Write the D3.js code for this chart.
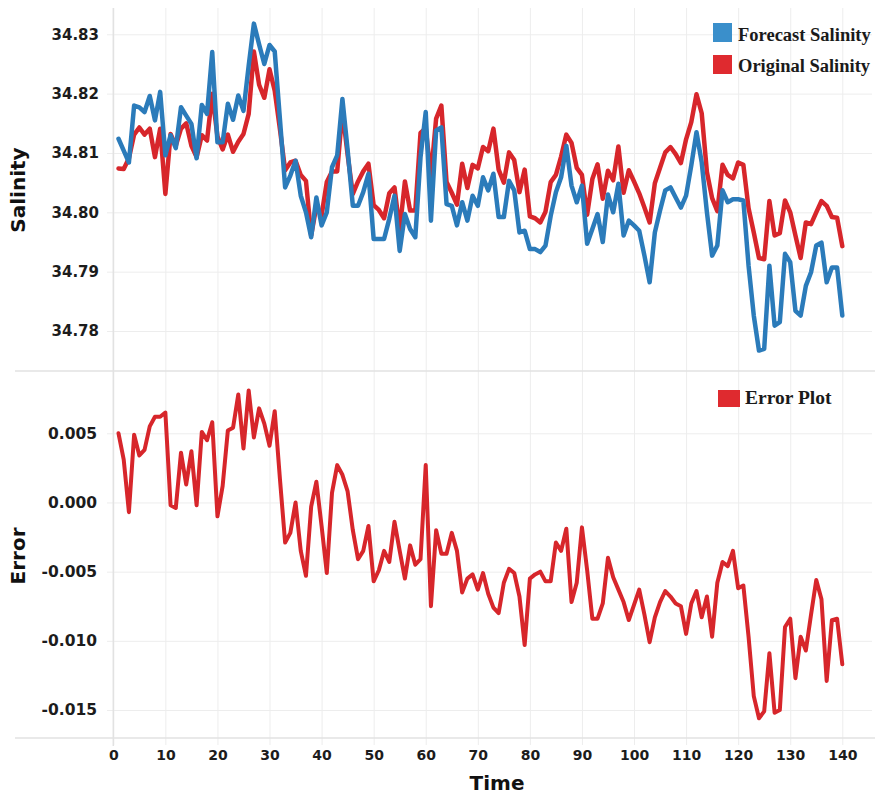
<!DOCTYPE html>
<html><head><meta charset="utf-8">
<script src="https://cdn.jsdelivr.net/npm/d3@7"></script>
<style>body{margin:0;background:#fff}</style>
</head><body><svg id="chart" width="880" height="798"></svg>
<script>
const time = d3.range(1, 141);
const forecastSalinity = [
34.8124,34.8104,34.8084,34.8180,34.8177,34.8169,34.8196,34.8155,34.8203,34.8096,
34.8130,34.8108,34.8177,34.8163,34.8149,34.8091,34.8181,34.8166,34.8270,34.8118,
34.8118,34.8183,34.8156,34.8197,34.8171,34.8247,34.8318,34.8283,34.8250,34.8282,
34.8271,34.8157,34.8042,34.8062,34.8087,34.8028,34.8000,34.7958,34.8025,34.7978,
34.8000,34.8076,34.8096,34.8191,34.8105,34.8011,34.8011,34.8034,34.8065,34.7955,
34.7955,34.7955,34.7989,34.8028,34.7935,34.7997,34.7972,34.7958,34.8093,34.8169,
34.7986,34.8138,34.8143,34.8014,34.8011,34.7978,34.8017,34.7986,34.8028,34.8011,
34.8059,34.8037,34.8065,34.7992,34.7992,34.8053,34.8037,34.7966,34.7969,34.7938,
34.7938,34.7933,34.7944,34.7994,34.8034,34.8059,34.8112,34.8045,34.8017,34.8045,
34.7947,34.7972,34.7997,34.7950,34.8030,34.8000,34.8048,34.7961,34.7986,34.7978,
34.7969,34.7927,34.7882,34.7966,34.8003,34.8037,34.8042,34.8025,34.8008,34.8028,
34.8079,34.8135,34.8084,34.8000,34.7927,34.7944,34.8037,34.8017,34.8022,34.8022,
34.8020,34.7910,34.7826,34.7767,34.7770,34.7910,34.7809,34.7815,34.7930,34.7916,
34.7834,34.7826,34.7876,34.7899,34.7944,34.7949,34.7882,34.7907,34.7907,34.7826
];
const originalSalinity = [
34.8074,34.8073,34.8091,34.8131,34.8143,34.8131,34.8141,34.8093,34.8141,34.8031,
34.8132,34.8112,34.8141,34.8150,34.8112,34.8093,34.8130,34.8121,34.8200,34.8128,
34.8106,34.8131,34.8102,34.8119,34.8132,34.8166,34.8271,34.8215,34.8193,34.8241,
34.8205,34.8140,34.8071,34.8084,34.8087,34.8063,34.8053,34.7961,34.8010,34.7995,
34.8051,34.8069,34.8069,34.8171,34.8097,34.8031,34.8052,34.8069,34.8082,34.8012,
34.8004,34.7990,34.8032,34.8042,34.7970,34.8052,34.8003,34.8003,34.8134,34.8142,
34.8061,34.8158,34.8180,34.8051,34.8033,34.8013,34.8082,34.8041,34.8080,34.8074,
34.8110,34.8103,34.8141,34.8072,34.8050,34.8101,34.8088,34.8034,34.8072,34.7993,
34.7990,34.7983,34.8001,34.8051,34.8063,34.8094,34.8131,34.8117,34.8075,34.8063,
34.7996,34.8056,34.8081,34.8023,34.8070,34.8054,34.8111,34.8033,34.8071,34.8052,
34.8032,34.8008,34.7983,34.8049,34.8075,34.8101,34.8110,34.8098,34.8083,34.8123,
34.8152,34.8199,34.8167,34.8068,34.8024,34.8002,34.8080,34.8063,34.8057,34.8084,
34.8080,34.8007,34.7966,34.7923,34.7921,34.8019,34.7961,34.7965,34.8020,34.8000,
34.7961,34.7923,34.7983,34.7980,34.8000,34.8019,34.8011,34.7992,34.7991,34.7943
];
const errorValues = [
0.0050,0.0031,-0.0007,0.0049,0.0034,0.0038,0.0055,0.0062,0.0062,0.0065,
-0.0002,-0.0004,0.0036,0.0013,0.0037,-0.0002,0.0051,0.0045,0.0058,-0.0010,
0.0012,0.0052,0.0054,0.0078,0.0039,0.0081,0.0047,0.0068,0.0057,0.0041,
0.0066,0.0017,-0.0029,-0.0022,0.0000,-0.0035,-0.0053,-0.0003,0.0015,-0.0017,
-0.0051,0.0007,0.0027,0.0020,0.0008,-0.0020,-0.0041,-0.0035,-0.0017,-0.0057,
-0.0049,-0.0035,-0.0043,-0.0014,-0.0035,-0.0055,-0.0031,-0.0045,-0.0041,0.0027,
-0.0075,-0.0020,-0.0037,-0.0037,-0.0022,-0.0035,-0.0065,-0.0055,-0.0052,-0.0063,
-0.0051,-0.0066,-0.0076,-0.0080,-0.0058,-0.0048,-0.0051,-0.0068,-0.0103,-0.0055,
-0.0052,-0.0050,-0.0057,-0.0057,-0.0029,-0.0035,-0.0019,-0.0072,-0.0058,-0.0018,
-0.0049,-0.0084,-0.0084,-0.0073,-0.0040,-0.0054,-0.0063,-0.0072,-0.0085,-0.0074,
-0.0063,-0.0081,-0.0101,-0.0083,-0.0072,-0.0064,-0.0068,-0.0073,-0.0075,-0.0095,
-0.0073,-0.0064,-0.0083,-0.0068,-0.0097,-0.0058,-0.0043,-0.0046,-0.0035,-0.0062,
-0.0060,-0.0097,-0.0140,-0.0156,-0.0151,-0.0109,-0.0152,-0.0150,-0.0090,-0.0084,
-0.0127,-0.0097,-0.0107,-0.0081,-0.0056,-0.0070,-0.0129,-0.0085,-0.0084,-0.0117
];
const salinityTicks = [34.78, 34.79, 34.80, 34.81, 34.82, 34.83];
const errorTicks = [-0.015, -0.010, -0.005, 0.000, 0.005];
const timeTicks = [0,10,20,30,40,50,60,70,80,90,100,110,120,130,140];
const topLegend = ["Forecast Salinity", "Original Salinity"];
const bottomLegend = ["Error Plot"];

const BLUE = "#2b7bba", RED = "#d7262b";
const svg = d3.select("#chart");
svg.append("rect").attr("width",880).attr("height",798).attr("fill","#fff");

const x = d3.scaleLinear().domain([0,140]).range([113.3, 842.3]);
const yTop = d3.scaleLinear().domain([34.78, 34.83]).range([331, 34.3]);
const yBot = d3.scaleLinear().domain([-0.015, 0.005]).range([710, 433.3]);

const gridColor = "#ededed";
const tickFont = "'DejaVu Sans', Verdana, sans-serif";

// vertical grid
const vg = svg.append("g").attr("transform","translate(0,745)")
  .call(d3.axisBottom(x).tickValues(timeTicks).tickSize(-737).tickFormat(""));
vg.select(".domain").remove();
vg.selectAll("line").attr("stroke", gridColor).attr("stroke-width",1);

// top y axis + grid
const ta = svg.append("g").attr("transform","translate(107,0)")
  .call(d3.axisLeft(yTop).tickValues(salinityTicks).tickSize(-765).tickPadding(8).tickFormat(d3.format(".2f")));
ta.select(".domain").remove();
ta.selectAll("line").attr("stroke", gridColor);
ta.selectAll("text").attr("font-family", tickFont).attr("font-weight","bold")
  .attr("font-size","15px").attr("fill","#1c1c1c");

// bottom y axis + grid
const ba = svg.append("g").attr("transform","translate(107,0)")
  .call(d3.axisLeft(yBot).tickValues(errorTicks).tickSize(-765).tickPadding(10).tickFormat(d3.format(".3f")));
ba.select(".domain").remove();
ba.selectAll("line").attr("stroke", gridColor);
ba.selectAll("text").attr("font-family", tickFont).attr("font-weight","bold")
  .attr("font-size","15.5px").attr("fill","#1c1c1c").text(d => d3.format(".3f")(d).replace("−","-"));

// frame lines
svg.append("line").attr("x1",113.3).attr("x2",113.3).attr("y1",8).attr("y2",746)
  .attr("stroke","#e2e2e2").attr("stroke-width",1.5);
svg.append("line").attr("x1",15).attr("x2",875).attr("y1",371).attr("y2",371)
  .attr("stroke","#e2e2e2").attr("stroke-width",1.5);
svg.append("line").attr("x1",15).attr("x2",875).attr("y1",738).attr("y2",738)
  .attr("stroke","#e2e2e2").attr("stroke-width",1.5);

// x axis labels
const xa = svg.append("g").attr("transform","translate(0,738)")
  .call(d3.axisBottom(x).tickValues(timeTicks).tickSize(0).tickPadding(12));
xa.select(".domain").remove();
xa.selectAll("text").attr("font-family", tickFont).attr("font-weight","bold")
  .attr("font-size","14px").attr("fill","#1c1c1c");

// axis titles
svg.append("text").attr("transform","translate(25,190) rotate(-90)").attr("text-anchor","middle")
  .attr("font-family", tickFont).attr("font-weight","bold").attr("font-size","20px").attr("fill","#111").text("Salinity");
svg.append("text").attr("transform","translate(25,556) rotate(-90)").attr("text-anchor","middle")
  .attr("font-family", tickFont).attr("font-weight","bold").attr("font-size","20px").attr("fill","#111").text("Error");
svg.append("text").attr("x",497).attr("y",790).attr("text-anchor","middle")
  .attr("font-family", tickFont).attr("font-weight","bold").attr("font-size","20px").attr("fill","#111").text("Time");

// lines
const lineTop = d3.line().x((d,i)=>x(time[i])).y(d=>yTop(d)).curve(d3.curveLinear);
const lineBot = d3.line().x((d,i)=>x(time[i])).y(d=>yBot(d));
svg.append("path").datum(originalSalinity).attr("d", lineTop).attr("fill","none")
  .attr("stroke", RED).attr("stroke-width",4.5).attr("stroke-linejoin","round").attr("stroke-linecap","round");
svg.append("path").datum(forecastSalinity).attr("d", lineTop).attr("fill","none")
  .attr("stroke", BLUE).attr("stroke-width",4.5).attr("stroke-linejoin","round").attr("stroke-linecap","round");
svg.append("path").datum(errorValues).attr("d", lineBot).attr("fill","none")
  .attr("stroke", RED).attr("stroke-width",4).attr("stroke-linejoin","round").attr("stroke-linecap","round");

// legends
const serif = "'Liberation Serif', 'Times New Roman', serif";
const tl = svg.append("g");
[[topLegend[0], "#3a8fcb", 23, 40.5],[topLegend[1], "#df2a2f", 55, 72]].forEach(([label, col, ry, ty]) => {
  tl.append("rect").attr("x",713).attr("y",ry).attr("width",19).attr("height",19).attr("fill",col);
  tl.append("text").attr("x",738).attr("y",ty).attr("font-family",serif).attr("font-weight","bold")
    .attr("font-size","18.5px").attr("fill","#1a1a1a").text(label);
});
svg.append("rect").attr("x",718).attr("y",390).attr("width",22).attr("height",17).attr("fill","#df2a2f");
svg.append("text").attr("x",745).attr("y",404).attr("font-family",serif).attr("font-weight","bold")
  .attr("font-size","19.5px").attr("fill","#1a1a1a").text(bottomLegend[0]);
</script></body></html>
